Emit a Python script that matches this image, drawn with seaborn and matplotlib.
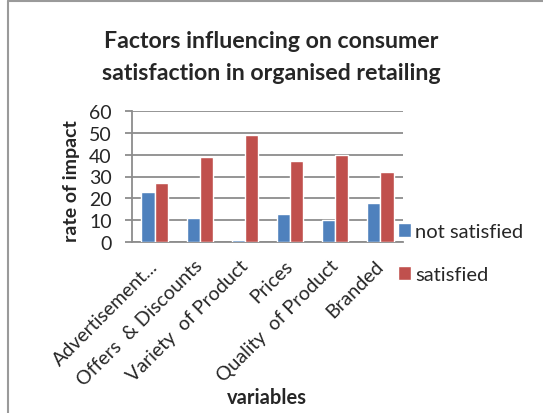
import matplotlib
matplotlib.use("Agg")
import matplotlib.pyplot as plt
import matplotlib.transforms as mtrans
from matplotlib.lines import Line2D
import seaborn as sns
import pandas as pd

categories = ["Advertisement...", "Offers  & Discounts", "Variety  of Product", "Prices", "Quality  of Product", "Branded"]
not_satisfied = [23, 11, 1, 13, 10, 18]
satisfied = [27, 39, 49, 37, 40, 32]
series_names = ["not satisfied", "satisfied"]
y_ticks = [0, 10, 20, 30, 40, 50, 60]
title_lines = ["Factors influencing on consumer", "satisfaction in organised retailing"]

df = pd.DataFrame({
    "variables": categories * 2,
    "value": not_satisfied + satisfied,
    "series": [series_names[0]] * len(categories) + [series_names[1]] * len(categories),
})

sns.set_theme(style="white")
plt.rcParams['font.family'] = ['Lato', 'DejaVu Sans']

W, H = 543, 414
fig = plt.figure(figsize=(W / 100, H / 100), dpi=100)
ax = fig.add_axes([132 / W, 1 - 243 / H, (403 - 132) / W, (243 - 112) / H])

sns.barplot(data=df, x="variables", y="value", hue="series",
            palette=["#4F81BD", "#C0504D"], width=0.58, ax=ax, saturation=1)

ax.set_ylim(0, 60)
ax.set_yticks(y_ticks)
ax.yaxis.grid(True, color="#8C8C8C", linewidth=1.3)
ax.set_axisbelow(True)
for s in ["top", "right"]:
    ax.spines[s].set_visible(False)
for s in ["left", "bottom"]:
    ax.spines[s].set_color("#8C8C8C")
    ax.spines[s].set_linewidth(1.3)
ax.spines["bottom"].set_zorder(0.6)
ax.tick_params(axis="y", labelsize=14, length=5, width=1.3, color="#8C8C8C", left=True, pad=9.5)
ax.tick_params(axis="x", labelsize=14, length=0, pad=15)
for lbl in ax.get_xticklabels():
    lbl.set_rotation(45)
    lbl.set_ha("right")
    lbl.set_va("center")
    lbl.set_rotation_mode("anchor")

ax.set_xlabel("")
ax.set_ylabel("rate of impact", fontsize=14, fontweight="bold", labelpad=4)
ax.yaxis.set_label_coords(80 / W, 1 - 181 / H, transform=fig.transFigure)

fig.text(267 / W, 1 - 398 / H, "variables", ha="center", va="center",
         fontsize=14.5, fontweight="bold")

fig.text(0.5, 1 - 48 / H, title_lines[0], ha="center", va="baseline",
         fontsize=16.7, fontweight="bold")
fig.text(0.5, 1 - 80 / H, title_lines[1], ha="center", va="baseline",
         fontsize=16.7, fontweight="bold")

ax.legend(loc="upper left", bbox_to_anchor=(398 / W, 1 - 224 / H),
          bbox_transform=fig.transFigure, frameon=False, borderaxespad=0, borderpad=0,
          fontsize=14.5, handlelength=0.65, handleheight=0.65, labelspacing=1.3,
          handletextpad=0.2)

fig.add_artist(Line2D([8 / W, 1], [1 - 1.5 / H, 1 - 1.5 / H], transform=fig.transFigure,
                      color="#9A9A9A", linewidth=1.5))
fig.add_artist(Line2D([8 / W, 8 / W], [0, 1 - 1.5 / H], transform=fig.transFigure,
                      color="#9A9A9A", linewidth=1.5))

fig.savefig("out.png", dpi=100)
